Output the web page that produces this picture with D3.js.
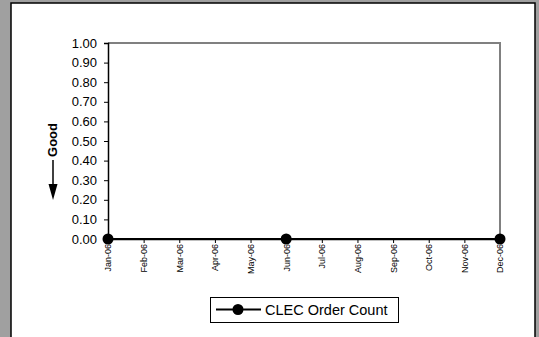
<!DOCTYPE html>
<html>
<head>
<meta charset="utf-8">
<script src="https://cdn.jsdelivr.net/npm/d3@7.9.0/dist/d3.min.js"></script>
<style>
  body { margin: 0; background: #a0a0a0; }
  svg { display: block; font-family: Arial, "Liberation Sans", sans-serif; }
</style>
</head>
<body>
<svg id="chart" width="539" height="337"></svg>
<script>
// data
const months = ['Jan-06', 'Feb-06', 'Mar-06', 'Apr-06', 'May-06', 'Jun-06',
                'Jul-06', 'Aug-06', 'Sep-06', 'Oct-06', 'Nov-06', 'Dec-06'];
const orderCount = [0, null, null, null, null, 0, null, null, null, null, null, 0];
const yTicks = [0, 0.1, 0.2, 0.3, 0.4, 0.5, 0.6, 0.7, 0.8, 0.9, 1.0];
const seriesName = 'CLEC Order Count';

const width = 539, height = 337;
const svg = d3.select('#chart');

// white panel
svg.append('rect')
    .attr('x', 11).attr('y', 3)
    .attr('width', 524).attr('height', 340)
    .attr('fill', '#fff')
    .attr('stroke', '#000')
    .attr('stroke-width', 1.5);

const plot = { left: 108, right: 500, top: 43, bottom: 239 };

const x = d3.scalePoint().domain(months).range([plot.left, plot.right]);
const y = d3.scaleLinear().domain([0, 1]).range([plot.bottom, plot.top]);

// plot frame (top/right gray)
svg.append('path')
    .attr('d', `M${plot.left},${plot.top}H${plot.right}V${plot.bottom}`)
    .attr('fill', 'none')
    .attr('stroke', '#808080')
    .attr('stroke-width', 2);

// y axis
const yAxis = svg.append('g')
    .attr('transform', `translate(${plot.left},0)`)
    .call(d3.axisLeft(y).tickValues(yTicks).tickFormat(d3.format('.2f')).tickSize(4).tickPadding(7));
yAxis.select('.domain').attr('stroke', '#000').attr('stroke-width', 1.5);
yAxis.selectAll('text').attr('font-size', 13).attr('fill', '#000')
    .attr('font-family', 'Arial, "Liberation Sans", sans-serif');

// x axis
const xAxis = svg.append('g')
    .attr('transform', `translate(0,${plot.bottom})`)
    .call(d3.axisBottom(x).tickSize(4).tickSizeOuter(0));
xAxis.select('.domain').attr('stroke', '#000').attr('stroke-width', 1.5);
xAxis.selectAll('text')
    .attr('font-size', 9).attr('fill', '#000')
    .attr('font-family', 'Arial, "Liberation Sans", sans-serif')
    .attr('transform', 'rotate(-90)')
    .attr('text-anchor', 'end')
    .attr('x', -5).attr('y', 0).attr('dy', '0.33em');

// "Good" label with arrow
svg.append('text')
    .attr('transform', 'translate(57,140) rotate(-90)')
    .attr('text-anchor', 'middle')
    .attr('font-size', 13)
    .attr('font-weight', 'bold')
    .text('Good');
svg.append('line')
    .attr('x1', 53).attr('x2', 53)
    .attr('y1', 160).attr('y2', 186)
    .attr('stroke', '#000').attr('stroke-width', 1.5);
svg.append('path')
    .attr('d', 'M48.5,184 L57.5,184 L53,200 Z')
    .attr('fill', '#000');

// series line
const defined = months.map((m, i) => ({ m, v: orderCount[i] })).filter(d => d.v !== null);
svg.append('path')
    .datum(defined)
    .attr('fill', 'none')
    .attr('stroke', '#000')
    .attr('stroke-width', 2)
    .attr('d', d3.line().x(d => x(d.m)).y(d => y(d.v)));

svg.selectAll('circle.pt')
    .data(defined)
    .join('circle')
    .attr('class', 'pt')
    .attr('cx', d => x(d.m))
    .attr('cy', d => y(d.v))
    .attr('r', 5.5)
    .attr('fill', '#000');

// legend
const legend = svg.append('g');
legend.append('rect')
    .attr('x', 210.5).attr('y', 297.5)
    .attr('width', 188).attr('height', 25)
    .attr('fill', '#fff').attr('stroke', '#000').attr('stroke-width', 1);
legend.append('line')
    .attr('x1', 216).attr('x2', 261)
    .attr('y1', 309.5).attr('y2', 309.5)
    .attr('stroke', '#000').attr('stroke-width', 2);
legend.append('circle')
    .attr('cx', 238).attr('cy', 309.5).attr('r', 5.5).attr('fill', '#000');
legend.append('text')
    .attr('x', 265).attr('y', 314.5)
    .attr('font-size', 14.5)
    .text(seriesName);
</script>
</body>
</html>
